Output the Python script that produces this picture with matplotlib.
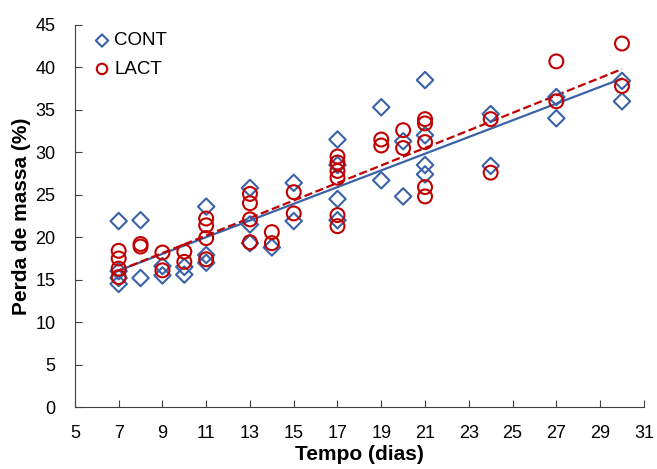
import numpy as np
import matplotlib.pyplot as plt

plt.rcParams['font.family'] = ['Liberation Sans', 'DejaVu Sans']

# CONT
cont_days = [7, 7, 7, 7, 8, 8, 9, 9, 10, 10, 11, 11, 11, 13, 13, 13, 14, 15, 15,
             17, 17, 17, 17, 19, 19, 20, 20, 21, 21, 21, 21, 24, 24, 27, 27, 30, 30]
cont_vals = [21.9, 16.0, 15.2, 14.5, 22.0, 15.2, 16.6, 15.5, 16.5, 15.6, 23.6, 17.9, 17.0,
             25.8, 21.5, 19.3, 18.8, 26.4, 21.9,
             31.5, 28.5, 24.5, 22.0, 35.3, 26.7, 31.3, 24.8, 38.5, 32.0, 28.5, 27.4,
             34.5, 28.4, 36.5, 34.0, 38.4, 36.0]

# LACT
lact_days = [7, 7, 7, 7, 8, 8, 9, 9, 10, 10, 11, 11, 11, 11, 13, 13, 13, 13, 14, 14,
             15, 15, 17, 17, 17, 17, 17, 17, 19, 19, 20, 20, 21, 21, 21, 21, 21,
             24, 24, 27, 27, 30, 30]
lact_vals = [18.4, 17.5, 16.3, 15.3, 19.2, 18.9, 18.2, 16.1, 18.3, 17.1,
             22.2, 21.4, 19.9, 17.4, 25.1, 24.0, 22.1, 19.4, 20.6, 19.3,
             25.3, 22.8, 29.5, 28.8, 27.8, 27.0, 22.6, 21.3, 31.5, 30.8, 32.6, 30.5,
             33.9, 33.4, 31.2, 25.9, 24.8, 33.9, 27.6, 40.7, 36.0, 42.8, 37.8]

blue = '#3a62a8'
red = '#c00000'

fig = plt.figure(figsize=(6.57, 4.69), dpi=100)
ax = fig.add_axes([0.114, 0.132, 0.866, 0.815])

ax.scatter(cont_days, cont_vals, marker='D', s=70, facecolors='none',
           edgecolors=blue, linewidths=1.5, label='CONT', zorder=3)
ax.scatter(lact_days, lact_vals, marker='o', s=100, facecolors='none',
           edgecolors=red, linewidths=1.5, label='LACT', zorder=3)

# linear trend lines
for d, v, c, ls in [(cont_days, cont_vals, blue, '-'), (lact_days, lact_vals, red, '--')]:
    k, b = np.polyfit(d, v, 1)
    xx = np.array([min(d), max(d)])
    ax.plot(xx, k * xx + b, color=c, linestyle=ls, linewidth=1.6, zorder=2)

ax.set_xlim(5, 31)
ax.set_ylim(0, 45)
ax.set_xticks(range(5, 32, 2))
ax.set_yticks(range(0, 46, 5))
ax.tick_params(direction='in', length=5, labelsize=13, color='#404040')
ax.tick_params(axis='y', pad=14)
ax.tick_params(axis='x', pad=13)
for s in ['top', 'right']:
    ax.spines[s].set_visible(False)
for s in ['left', 'bottom']:
    ax.spines[s].set_color('#404040')

ax.set_xlabel('Tempo (dias)', fontsize=15, fontweight='bold', labelpad=2)
ax.set_ylabel('Perda de massa (%)', fontsize=15, fontweight='bold', labelpad=3)

ax.legend(loc='upper left', frameon=False, fontsize=13.5, handletextpad=0.15,
          handlelength=1.0, borderaxespad=0, labelspacing=0.6, markerscale=0.75,
          bbox_to_anchor=(0.018, 1.0))

fig.savefig('out.png', dpi=100)
